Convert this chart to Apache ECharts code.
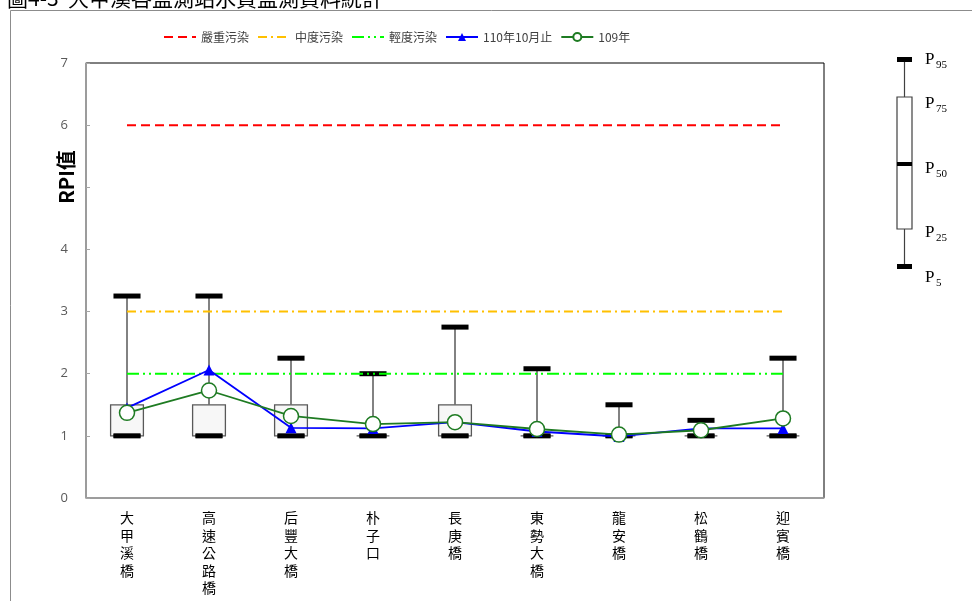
<!DOCTYPE html>
<html>
<head>
<meta charset="utf-8">
<script src="https://cdn.jsdelivr.net/npm/echarts@6/dist/echarts.min.js"></script>
<style>html,body{margin:0;padding:0;background:#fff}#c{width:972px;height:601px}</style>
</head>
<body>
<div id="c"></div>
<script>
// ---- data ----
const stations = ['大甲溪橋','高速公路橋','后豐大橋','朴子口','長庚橋','東勢大橋','龍安橋','松鶴橋','迎賓橋'];
const p5  = [1.0, 1.0, 1.0, 1.0, 1.0, 1.0, 1.0, 1.0, 1.0];
const p25 = [1.0, 1.0, 1.0, 1.0, 1.0, 1.0, 1.0, 1.0, 1.0];
const p50 = [1.0, 1.0, 1.0, 1.0, 1.0, 1.0, 1.0, 1.0, 1.0];
const p75 = [1.5, 1.5, 1.5, 1.0, 1.5, 1.0, 1.0, 1.0, 1.0];
const p95 = [3.25, 3.25, 2.25, 2.0, 2.75, 2.08, 1.5, 1.25, 2.25];
const y110 = [1.45, 2.06, 1.13, 1.12, 1.22, 1.07, 0.99, 1.12, 1.12];
const y109 = [1.37, 1.73, 1.32, 1.19, 1.22, 1.11, 1.02, 1.09, 1.28];
const severe   = [6, 6, 6, 6, 6, 6, 6, 6, 6];
const moderate = [3, 3, 3, 3, 3, 3, 3, 3, 3];
const light    = [2, 2, 2, 2, 2, 2, 2, 2, 2];
const yTicks = [0, 1, 2, 3, 4, 5, 6, 7];
const legendNames = ['嚴重污染','中度污染','輕度污染','110年10月止','109年'];
const pLabels = [['95', 60], ['75', 104], ['50', 169], ['25', 233], ['5', 278]];

const boxData = stations.map((s, i) => [i, p5[i], p25[i], p50[i], p75[i], p95[i]]);
const GREEN = '#1E7B22';
const CJK = '"Noto Sans CJK TC","Noto Sans",sans-serif';

const chart = echarts.init(document.getElementById('c'));

function renderBox(params, api) {
  const x = api.value(0);
  const c5 = api.coord([x, api.value(1)]);
  const c25 = api.coord([x, api.value(2)]);
  const c50 = api.coord([x, api.value(3)]);
  const c75 = api.coord([x, api.value(4)]);
  const c95 = api.coord([x, api.value(5)]);
  const band = api.size([1, 0])[0];
  const bw = band * 0.40, cw = band * 0.33;
  const cx = c5[0];
  return {
    type: 'group',
    children: [
      { type: 'line', shape: { x1: cx, y1: c75[1], x2: cx, y2: c95[1] }, style: { stroke: '#595959', lineWidth: 1.5 } },
      { type: 'line', shape: { x1: cx, y1: c5[1], x2: cx, y2: c25[1] }, style: { stroke: '#595959', lineWidth: 1.5 } },
      { type: 'rect', shape: { x: cx - bw / 2, y: c75[1], width: bw, height: c25[1] - c75[1] }, style: { fill: '#F7F7F7', stroke: '#595959', lineWidth: 1.3 } },
      { type: 'rect', shape: { x: cx - bw / 2 + 3, y: c50[1] - 2, width: bw - 6, height: 4 }, style: { fill: '#000' } },
      { type: 'rect', shape: { x: cx - cw / 2, y: c95[1] - 2.5, width: cw, height: 5 }, style: { fill: '#000' } },
      { type: 'rect', shape: { x: cx - cw / 2, y: c5[1] - 2.5, width: cw, height: 5 }, style: { fill: '#000' } }
    ]
  };
}

const graphics = [
  // outer frame
  { type: 'line', shape: { x1: 10.5, y1: 10.5, x2: 972, y2: 10.5 }, style: { stroke: '#8c8c8c', lineWidth: 1 } },
  { type: 'line', shape: { x1: 10.5, y1: 10.5, x2: 10.5, y2: 601 }, style: { stroke: '#8c8c8c', lineWidth: 1 } },
  // y axis title
  { type: 'text', x: 66, y: 177, rotation: Math.PI / 2,
    style: { text: 'RPI值', fontSize: 20, fontWeight: 'bold', fontFamily: CJK, fill: '#000', align: 'center', verticalAlign: 'middle' } },
  // percentile key
  { type: 'line', shape: { x1: 904.5, y1: 59, x2: 904.5, y2: 266 }, style: { stroke: '#404040', lineWidth: 1.2 } },
  { type: 'rect', shape: { x: 897, y: 97, width: 15, height: 132 }, style: { fill: '#fff', stroke: '#404040', lineWidth: 1.2 } },
  { type: 'rect', shape: { x: 897, y: 162, width: 15, height: 4 }, style: { fill: '#000' } },
  { type: 'rect', shape: { x: 897, y: 57, width: 15, height: 5 }, style: { fill: '#000' } },
  { type: 'rect', shape: { x: 897, y: 264, width: 15, height: 5 }, style: { fill: '#000' } }
];
pLabels.forEach(([sub, y]) => {
  graphics.push({ type: 'text', x: 925, y: y, style: { text: 'P', fontSize: 17, fontFamily: '"Liberation Serif",serif', fill: '#000', verticalAlign: 'middle' } });
  graphics.push({ type: 'text', x: 936, y: y + 5, style: { text: sub, fontSize: 11, fontFamily: '"Liberation Serif",serif', fill: '#000', verticalAlign: 'middle' } });
});

const hideSym = { opacity: 0 };

chart.setOption({
  animation: false,
  backgroundColor: '#fff',
  title: {
    text: '圖4-3  大甲溪各監測站水質監測資料統計',
    left: 2, top: -17,
    textStyle: { fontSize: 21, fontWeight: 'normal', fontFamily: CJK, color: '#000' }
  },
  legend: {
    data: [
      { name: legendNames[0], itemStyle: hideSym },
      { name: legendNames[1], itemStyle: hideSym },
      { name: legendNames[2], itemStyle: hideSym },
      { name: legendNames[3] },
      { name: legendNames[4] }
    ],
    left: 158, top: 26,
    itemWidth: 32, itemHeight: 10, itemGap: 8,
    textStyle: { fontSize: 12, color: '#404040', fontFamily: CJK }
  },
  grid: { left: 86, right: 148, top: 63, bottom: 103, show: true, borderColor: '#000', borderWidth: 1, backgroundColor: 'transparent' },
  xAxis: {
    type: 'category',
    data: stations,
    boundaryGap: true,
    axisLine: { lineStyle: { color: '#A6A6A6', width: 1.5 } },
    axisTick: { inside: true, alignWithLabel: true, length: 5, lineStyle: { color: '#A6A6A6' } },
    axisLabel: {
      interval: 0, margin: 11,
      formatter: v => v.split('').join('\n'),
      fontSize: 14, lineHeight: 17.5, color: '#000', fontFamily: CJK
    },
    splitLine: { show: false }
  },
  yAxis: {
    type: 'value',
    min: 0, max: 7, interval: 1,
    axisLine: { show: true, lineStyle: { color: '#A6A6A6', width: 1.5 } },
    axisTick: { show: true, inside: true, length: 4, lineStyle: { color: '#A6A6A6' } },
    axisLabel: {
      margin: 18, fontSize: 13, color: '#595959', fontFamily: '"Open Sans",sans-serif',
      formatter: v => (yTicks.indexOf(v) >= 0 && v !== 5 ? String(v) : '')
    },
    splitLine: { show: false }
  },
  graphic: graphics,
  series: [
    { type: 'custom', name: 'box', renderItem: renderBox, data: boxData, z: 1,
      encode: { x: 0, y: [1, 2, 3, 4, 5] }, silent: true },
    { type: 'line', name: legendNames[0], data: severe, symbol: 'none', z: 2,
      lineStyle: { color: '#FF0000', width: 2, type: [9, 5] }, itemStyle: { color: '#FF0000' } },
    { type: 'line', name: legendNames[1], data: moderate, symbol: 'none', z: 2,
      lineStyle: { color: '#FFC000', width: 2, type: [9, 4, 2, 4] }, itemStyle: { color: '#FFC000' } },
    { type: 'line', name: legendNames[2], data: light, symbol: 'none', z: 2,
      lineStyle: { color: '#00FF00', width: 2, type: [12, 4, 2, 4, 2, 4] }, itemStyle: { color: '#00FF00' } },
    { type: 'line', name: legendNames[3], data: y110, symbol: 'triangle', symbolSize: 11, z: 3,
      lineStyle: { color: '#0000FF', width: 1.8 }, itemStyle: { color: '#0000FF' } },
    { type: 'line', name: legendNames[4], data: y109, symbol: 'circle', symbolSize: 15, z: 4,
      lineStyle: { color: GREEN, width: 1.8 }, itemStyle: { color: '#fff', borderColor: GREEN, borderWidth: 1.5 } }
  ]
});
</script>
</body>
</html>
